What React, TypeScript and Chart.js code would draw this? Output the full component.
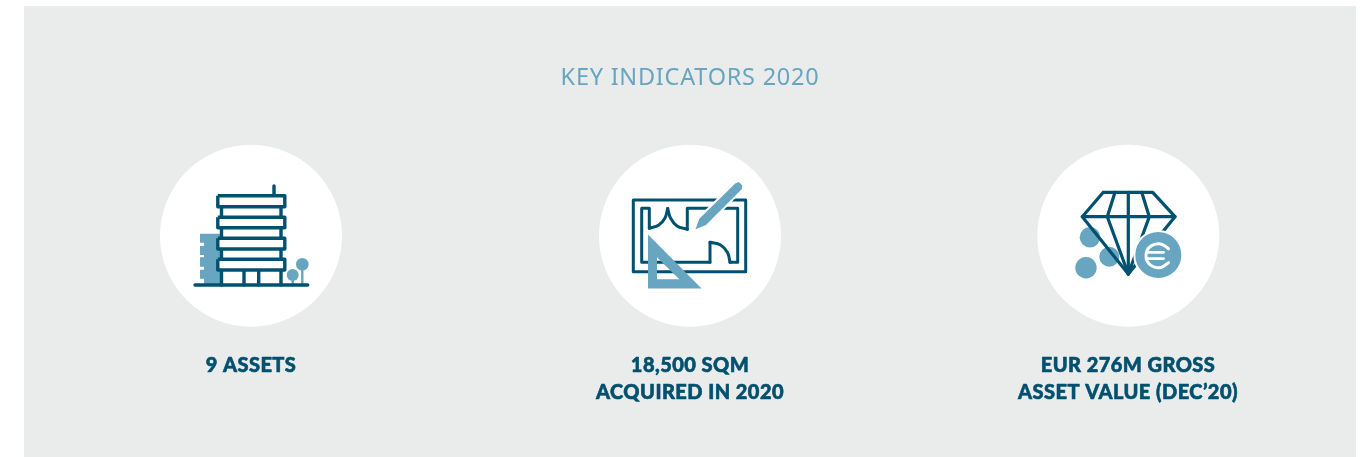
import React, { useEffect, useRef } from "react";
import { Chart, registerables } from "chart.js";

Chart.register(...registerables);

type P = [number, number];

// ---- text ----
const titleText = "KEY INDICATORS 2020";
const labelLines = ["9 ASSETS", "18,500 SQM", "ACQUIRED IN 2020", "EUR 276M GROSS", "ASSET VALUE (DEC\u201920)"];
const labelX = [251, 690, 690, 1128, 1128];
const labelY = [372, 372, 398.5, 372, 398.5];

// ---- panel and discs ----
const panel: P[] = [[24, 6], [1356, 6], [1356, 457], [24, 457]];
const discCentres: P[] = [[251, 235.7], [690, 235.7], [1128.3, 235.7]];

// ---- building ----
const floor1: P[] = [[217.8, 195.8], [284.8, 195.8], [284.8, 206.8], [217.8, 206.8], [217.8, 195.8]];
const floor2: P[] = [[217.8, 217.3], [284.8, 217.3], [284.8, 227.7], [217.8, 227.7], [217.8, 217.3]];
const floor3: P[] = [[217.8, 238.3], [284.8, 238.3], [284.8, 249], [217.8, 249], [217.8, 238.3]];
const floor4: P[] = [[217.8, 259.3], [284.8, 259.3], [284.8, 270], [217.8, 270], [217.8, 259.3]];
const columnLeft: P[] = [[221.5, 206], [221.5, 285]];
const columnRight: P[] = [[281, 206], [281, 285]];
const columnMidA: P[] = [[244, 270], [244, 285]];
const columnMidB: P[] = [[258.7, 270], [258.7, 285]];
const groundLine: P[] = [[195, 285], [307.7, 285]];
const antenna: P[] = [[274, 186], [274, 195]];
const backBlock: P[] = [
  [200, 233.7], [221, 233.7], [221, 284], [204, 284], [204, 278.7], [200, 278.7], [200, 269.7], [204, 269.7],
  [204, 266.7], [200, 266.7], [200, 257.3], [204, 257.3], [204, 255], [200, 255], [200, 246], [204, 246],
  [204, 242.7], [200, 242.7],
];
const treeTops: P[] = [[302.3, 264.3], [292.7, 275]];
const treeTrunkA: P[] = [[302.3, 264], [302.3, 285]];
const treeTrunkB: P[] = [[292.7, 275], [292.7, 285]];

// ---- floor plan ----
const planFrame: P[] = [[633.3, 200], [745.7, 200], [745.7, 271.7], [633.3, 271.7], [633.3, 200]];
const planWallA: P[] = [[710, 262.3], [641.7, 262.3], [641.7, 208.3], [649.3, 208.3], [649.3, 228.3]];
const planCurveA: P[] = [[649.3, 228.3], [658.8, 225], [665, 218], [667.7, 208.5]];
const planCurveB: P[] = [[667.7, 208.5], [670.5, 218], [677, 226], [687.3, 229.3]];
const planWallB: P[] = [[687.3, 229.3], [687.3, 208.3], [737.7, 208.3], [737.7, 262.3], [730, 262.3]];
const planCurveC: P[] = [[730, 262.3], [727.5, 252.5], [720.5, 245], [710, 242.3]];
const planWallC: P[] = [[710, 242.3], [710, 262.3]];
const penOutline: P[] = [
  [695.5, 229.2], [699.3, 218.8], [735.5, 183.2], [738.8, 182], [742.4, 185.4], [741.6, 189.2], [706, 225],
];
const setSquare: P[] = [
  [648, 234.5], [701.5, 288.6], [648, 288.6], [648, 234.5],
  [657, 257.3], [657, 279.3], [679.3, 279.3], [657, 257.3], [648, 234.5],
];

// ---- diamond ----
const gemOutline: P[] = [
  [1103.3, 192.3], [1152.7, 192.3], [1175, 216.7], [1128.3, 274], [1082.3, 216.7], [1103.3, 192.3],
];
const gemGirdle: P[] = [[1082.3, 216.7], [1175, 216.7]];
const gemFacetLeft: P[] = [[1115, 192.3], [1107.3, 216.7], [1128.3, 274]];
const gemFacetMid: P[] = [[1128.3, 192.3], [1128.3, 274]];
const gemFacetRight: P[] = [[1141.7, 192.3], [1149.3, 216.7], [1128.3, 274]];
const coinCentresSmall: P[] = [[1090, 237.3], [1109.3, 256.7], [1086, 267.7]];
const euroCoin: P[] = [[1158.3, 255]];
const euroArc: P[] = [
  [1168.5, 248.8], [1163, 244.8], [1158, 243.7], [1151.5, 245.6], [1147, 250.5], [1146, 255.7],
  [1147, 261], [1151.5, 265.8], [1158, 267.7], [1163, 266.6], [1168.5, 262.6],
];
const euroBarTop: P[] = [[1147, 252.3], [1163.5, 252.3]];
const euroBarBottom: P[] = [[1147, 258.6], [1163.5, 258.6]];

const DARK = "#00506F";
const LIGHT = "#67A5C1";
const PANEL = "#EAECEB";
const WHITE = "#FFFFFF";
const LINE = 3.4;
const THIN = 3;

const pts = (a: P[]) => a.map(([x, y]) => ({ x, y }));

const stroke = (a: P[], color = DARK, width = LINE, tension = 0) => ({
  data: pts(a), showLine: true, borderColor: color, borderWidth: width, pointRadius: 0, tension,
  borderCapStyle: "round", borderJoinStyle: "round", fill: false,
});
const filled = (a: P[], color: string, outline = "transparent") => ({
  data: pts(a), showLine: true, borderColor: outline, borderWidth: outline === "transparent" ? 0 : LINE,
  pointRadius: 0, polyFill: color, borderJoinStyle: "round", fill: false,
});
const dots = (a: P[], color: string, radius: number, halo = 0) => ({
  data: pts(a), showLine: false, pointRadius: radius, pointBackgroundColor: color,
  pointBorderColor: WHITE, pointBorderWidth: halo, pointHoverRadius: radius,
});

const polygonFill = {
  id: "polygonFill",
  beforeDatasetDraw(chart: any, args: any) {
    const color = chart.data.datasets[args.index].polyFill;
    if (!color) return;
    const { ctx } = chart;
    const points = args.meta.data;
    ctx.save();
    ctx.beginPath();
    points.forEach((p: any, i: number) => (i ? ctx.lineTo(p.x, p.y) : ctx.moveTo(p.x, p.y)));
    ctx.closePath();
    ctx.fillStyle = color;
    ctx.fill();
    ctx.restore();
  },
};

const captions = {
  id: "captions",
  afterDraw(chart: any) {
    const { ctx, scales } = chart;
    ctx.save();
    ctx.textAlign = "center";
    ctx.textBaseline = "alphabetic";
    ctx.fillStyle = LIGHT;
    ctx.font = '400 23.5px "Noto Sans"';
    ctx.letterSpacing = "0.75px";
    ctx.fillText(titleText, scales.x.getPixelForValue(690), scales.y.getPixelForValue(85));
    ctx.fillStyle = DARK;
    ctx.strokeStyle = DARK;
    ctx.lineWidth = 0.6;
    ctx.lineJoin = "round";
    ctx.font = '900 20px Lato';
    ctx.letterSpacing = "0.45px";
    labelLines.forEach((t, i) => {
      const x = scales.x.getPixelForValue(labelX[i]);
      const y = scales.y.getPixelForValue(labelY[i]);
      ctx.fillText(t, x, y);
      ctx.strokeText(t, x, y);
    });
    ctx.restore();
  },
};

export default function App() {
  const ref = useRef<HTMLCanvasElement>(null);
  useEffect(() => {
    const layers: any[] = [
      filled(panel, PANEL),
      dots(discCentres, WHITE, 91),
      // building
      filled(backBlock, LIGHT),
      stroke(columnLeft),
      stroke(columnRight),
      stroke(columnMidA),
      stroke(columnMidB),
      filled(floor1, WHITE, DARK),
      filled(floor2, WHITE, DARK),
      filled(floor3, WHITE, DARK),
      filled(floor4, WHITE, DARK),
      stroke(antenna),
      stroke(treeTrunkA, LIGHT, 2.4),
      stroke(treeTrunkB, LIGHT, 2.4),
      dots(treeTops.slice(0, 1), LIGHT, 6.3),
      dots(treeTops.slice(1), LIGHT, 6),
      stroke(groundLine),
      // floor plan
      stroke(planFrame, DARK, THIN),
      stroke(planWallA, DARK, THIN),
      stroke(planCurveA, DARK, THIN, 0.4),
      stroke(planCurveB, DARK, THIN, 0.4),
      stroke(planWallB, DARK, THIN),
      stroke(planCurveC, DARK, THIN, 0.4),
      stroke(planWallC, DARK, THIN),
      stroke(penOutline.concat([penOutline[0]]), WHITE, 4),
      filled(penOutline, LIGHT),
      filled(setSquare, LIGHT),
      // diamond
      dots(coinCentresSmall.slice(0, 1), LIGHT, 10.3),
      dots(coinCentresSmall.slice(1, 2), LIGHT, 10),
      dots(coinCentresSmall.slice(2), LIGHT, 10.7),
      stroke(gemOutline, DARK, 3.2),
      stroke(gemGirdle, DARK, 3.2),
      stroke(gemFacetLeft, DARK, 3.2),
      stroke(gemFacetMid, DARK, 3.2),
      stroke(gemFacetRight, DARK, 3.2),
      dots(euroCoin, LIGHT, 24, 2),
      stroke(euroArc, WHITE, 3, 0.4),
      stroke(euroBarTop, WHITE, 2.8),
      stroke(euroBarBottom, WHITE, 2.8),
    ];
    const chart = new Chart(ref.current as HTMLCanvasElement, {
      type: "scatter",
      data: { datasets: layers.map((d, i) => ({ ...d, order: -i })) },
      options: {
        animation: false,
        responsive: false,
        events: [],
        layout: { padding: 0, autoPadding: false },
        plugins: { legend: { display: false }, tooltip: { enabled: false }, title: { display: false } },
        scales: {
          x: { type: "linear", min: 0, max: 1366, display: false },
          y: { type: "linear", min: 0, max: 457, reverse: true, display: false },
        },
      },
      plugins: [polygonFill, captions],
    } as any);
    return () => chart.destroy();
  }, []);
  return (
    <div style={{ position: "absolute", left: 0, top: 0, width: 1366, height: 457 }}>
      <canvas ref={ref} width={1366} height={457} style={{ display: "block" }} />
    </div>
  );
}
